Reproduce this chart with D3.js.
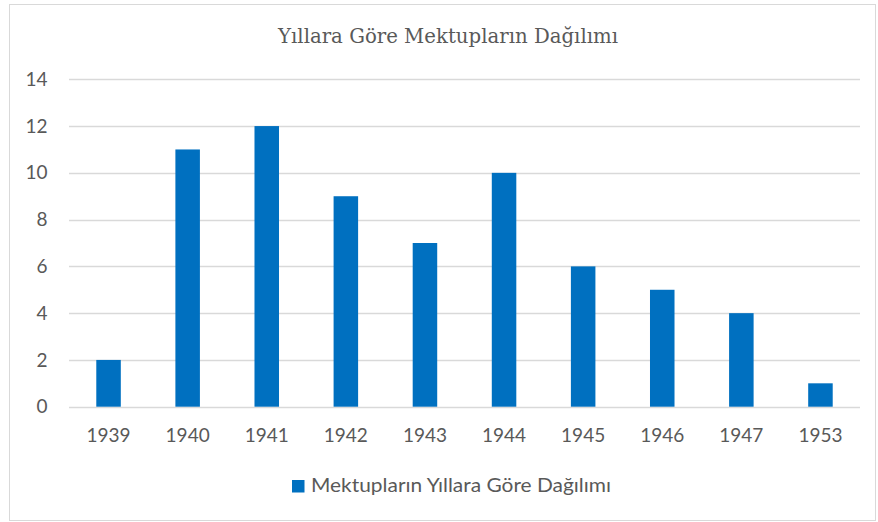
<!DOCTYPE html>
<html><head><meta charset="utf-8">
<script src="https://cdn.jsdelivr.net/npm/d3@7"></script>
<style>body{margin:0;background:#fff}svg{display:block}</style>
</head><body>
<script>
const years = ["1939","1940","1941","1942","1943","1944","1945","1946","1947","1953"];
const counts = [2,11,12,9,7,10,6,5,4,1];
const yTicks = [0,2,4,6,8,10,12,14];
const title = "Yıllara Göre Mektupların Dağılımı";
const seriesName = "Mektupların Yıllara Göre Dağılımı";

const W = 878, H = 522;
const svg = d3.select("body").append("svg").attr("width", W).attr("height", H);
svg.append("rect").attr("x", 9.5).attr("y", 4.5).attr("width", 866).attr("height", 516)
  .attr("fill", "#fff").attr("stroke", "#d9d9d9").attr("stroke-width", 1);

const x = d3.scaleBand().domain(years).range([69, 860]).paddingInner(0.69).paddingOuter(0.345);
const y = d3.scaleLinear().domain([0, 14]).range([406.7, 79.3]);

const grid = svg.append("g");
grid.selectAll("line").data(yTicks).join("line")
  .attr("x1", 69).attr("x2", 860)
  .attr("y1", d => Math.round(y(d)) + 0.5).attr("y2", d => Math.round(y(d)) + 0.5)
  .attr("stroke", "#d9d9d9").attr("stroke-width", 1.3);

svg.append("g").selectAll("text").data(yTicks).join("text")
  .attr("x", 47.5).attr("y", d => y(d)).attr("dy", "0.35em")
  .attr("text-anchor", "end").attr("font-family", "Lato, 'Open Sans', sans-serif")
  .attr("font-size", 19).attr("fill", "#595959").text(d => d);

svg.append("g").selectAll("rect").data(years).join("rect")
  .attr("x", d => x(d)).attr("width", x.bandwidth())
  .attr("y", (d, i) => y(counts[i])).attr("height", (d, i) => y(0) - y(counts[i]))
  .attr("fill", "#0070C0");

svg.append("g").selectAll("text").data(years).join("text")
  .attr("x", d => x(d) + x.bandwidth() / 2).attr("y", 442)
  .attr("text-anchor", "middle").attr("font-family", "Lato, 'Open Sans', sans-serif")
  .attr("font-size", 19).attr("fill", "#595959").text(d => d);

svg.append("text").attr("x", 448).attr("y", 43).attr("text-anchor", "middle")
  .attr("font-family", "'DejaVu Serif', serif").attr("font-size", 20)
  .attr("textLength", 340).attr("lengthAdjust", "spacingAndGlyphs")
  .attr("fill", "#595959").text(title);

svg.append("rect").attr("x", 292).attr("y", 480).attr("width", 12.5).attr("height", 12.5).attr("fill", "#0070C0");
svg.append("text").attr("x", 311).attr("y", 492)
  .attr("font-family", "Lato, 'Open Sans', sans-serif").attr("font-size", 20)
  .attr("textLength", 300).attr("lengthAdjust", "spacingAndGlyphs")
  .attr("fill", "#595959").text(seriesName);
</script>
</body></html>
